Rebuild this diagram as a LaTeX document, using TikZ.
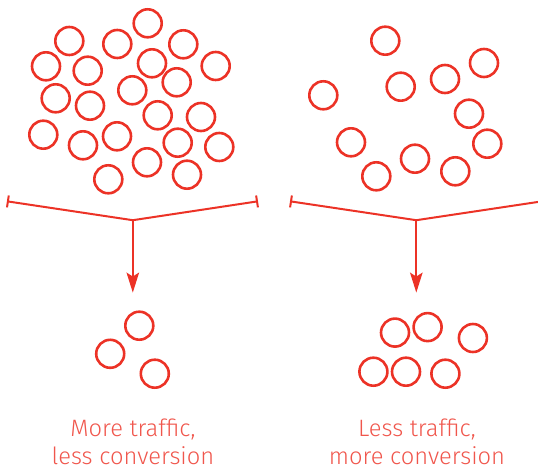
\documentclass[tikz,border=0pt]{standalone}
\usepackage{fontspec}
\setmainfont{Fira Sans}[UprightFont=* Light]
\usepackage{tikz}
\usetikzlibrary{arrows.meta}
\definecolor{ringred}{RGB}{236,50,38}
\definecolor{textred}{RGB}{240,86,76}

\begin{document}
\begin{tikzpicture}[x=1bp,y=-1bp,
  ring/.style={circle,draw=ringred,line width=2.6bp,minimum size=28bp,inner sep=0pt},
  brace/.style={draw=ringred,line width=2bp,{Bar[width=12bp,line width=2bp]}-{Bar[width=12bp,line width=2bp]}},
  funnel/.style={draw=ringred,line width=2bp,-{Stealth[length=20bp,width=12.5bp,inset=4bp]}},
  caption/.style={text=textred,align=center,anchor=base,inner sep=0pt,font=\fontsize{23.8}{27.6}\selectfont}]
\useasboundingbox (0,0) rectangle (538,469);
% many visitors
\node [ring] (a1) at (147.7,23.3){};
\node [ring] (a2) at (69.3,41){};
\node [ring] (a3) at (117.3,44){};
\node [ring] (a4) at (183.3,44.3){};
\node [ring] (a5) at (46,66.3){};
\node [ring] (a6) at (87.7,70.7){};
\node [ring] (a7) at (152,63.3){};
\node [ring] (a8) at (215.7,66){};
\node [ring] (a9) at (176.7,82.3){};
\node [ring] (a10) at (132.3,90.3){};
\node [ring] (a11) at (55.7,98.3){};
\node [ring] (a12) at (90,105.7){};
\node [ring] (a13) at (157.7,115.3){};
\node [ring] (a14) at (201,117){};
\node [ring] (a15) at (43.3,134.7){};
\node [ring] (a16) at (83,145.3){};
\node [ring] (a17) at (117,136.3){};
\node [ring] (a18) at (177.7,142.7){};
\node [ring] (a19) at (219.3,147){};
\node [ring] (a20) at (147,162.3){};
\node [ring] (a21) at (108.3,179.3){};
\node [ring] (a22) at (187,174.7){};
% few visitors
\node [ring] (b1) at (385.3,40.7){};
\node [ring] (b2) at (484,63){};
\node [ring] (b3) at (400.7,86.7){};
\node [ring] (b4) at (445,79){};
\node [ring] (b5) at (323.3,95.3){};
\node [ring] (b6) at (469,113.7){};
\node [ring] (b7) at (351,142.3){};
\node [ring] (b8) at (487.3,143.7){};
\node [ring] (b9) at (415,158.7){};
\node [ring] (b10) at (376.3,176.3){};
\node [ring] (b11) at (455.3,171.3){};
% funnels
\coordinate (lA) at (6.9,201.3);
\coordinate (lM) at (132.8,220.2);
\coordinate (lB) at (258,201.3);
\coordinate (lT) at (132.8,292.6);
\coordinate (rA) at (290,201.3);
\coordinate (rM) at (416.3,220.2);
\coordinate (rB) at (542.3,201.3);
\coordinate (rT) at (416.3,292.6);
\draw [brace] (lA) -- (lM) -- (lB);
\draw [funnel] (lM) -- (lT);
\draw [brace] (rA) -- (rM) -- (rB);
\draw [funnel] (rM) -- (rT);
% conversions
\node [ring] (c1) at (139.3,325.7){};
\node [ring] (c2) at (110.2,353.8){};
\node [ring] (c3) at (154.8,373.7){};
\node [ring] (d1) at (395,332.6){};
\node [ring] (d2) at (427.6,327.1){};
\node [ring] (d3) at (472.9,338){};
\node [ring] (d4) at (373.4,371.7){};
\node [ring] (d5) at (406,371.7){};
\node [ring] (d6) at (445.4,373.7){};
% captions
\node [caption] (capL) at (133,464.3){More traffic,\\less conversion};
\node [caption] (capR) at (417,464.3){Less traffic,\\more conversion};
\end{tikzpicture}
\end{document}
